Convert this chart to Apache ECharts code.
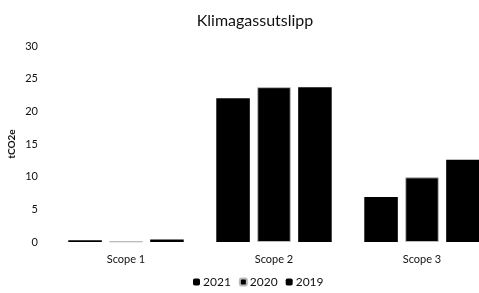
<!DOCTYPE html>
<html>
<head>
<meta charset="utf-8">
<script src="https://cdn.jsdelivr.net/npm/echarts@6/dist/echarts.min.js"></script>
<style>
  html, body { margin: 0; padding: 0; background: #fff; }
  #chart { width: 479px; height: 293px; }
</style>
</head>
<body>
<div id="chart"></div>
<script>
const categories = ['Scope 1', 'Scope 2', 'Scope 3'];
const years = ['2021', '2020', '2019'];
const values2021 = [0.25, 22.0, 6.9];
const values2020 = [0.1, 23.7, 9.9];
const values2019 = [0.4, 23.7, 12.6];
const yTicks = [0, 5, 10, 15, 20, 25, 30];

const font = 'Lato, "Open Sans", sans-serif';
const chart = echarts.init(document.getElementById('chart'));

const plain = { color: '#000' };
// 2020 bars: black fill with a thin light line just inside the edge
const outlined = { color: '#000', borderColor: '#bbb', borderWidth: 1 };

chart.setOption({
    animation: false,
    title: {
        text: 'Klimagassutslipp',
        left: 250,
        textAlign: 'center',
        top: 8,
        textStyle: { fontFamily: font, fontSize: 16, fontWeight: 'normal', color: '#111' }
    },
    legend: {
        data: years,
        bottom: 0,
        left: 188,
        itemWidth: 7,
        itemHeight: 7,
        itemGap: 8,
        textStyle: { fontFamily: font, fontSize: 12, color: '#111', padding: [0, 0, 0, -2] }
    },
    grid: { left: 52, right: -17, top: 46, bottom: 51, containLabel: false, outerBoundsMode: 'none' },
    xAxis: {
        type: 'category',
        data: categories,
        axisLine: { show: false },
        axisTick: { show: false },
        axisLabel: { fontFamily: font, fontSize: 11, color: '#111', margin: 12 }
    },
    yAxis: {
        type: 'value',
        min: yTicks[0],
        max: yTicks[yTicks.length - 1],
        interval: 5,
        name: 'tCO2e',
        nameLocation: 'middle',
        nameGap: 35,
        nameMoveOverlap: false,
        nameTextStyle: { fontFamily: font, fontSize: 10, fontWeight: 'bold', color: '#111' },
        splitLine: { show: false },
        axisLine: { show: false },
        axisTick: { show: false },
        axisLabel: { fontFamily: font, fontSize: 11, color: '#111', margin: 14 }
    },
    series: [
        { name: years[0], type: 'bar', data: values2021, itemStyle: plain, barGap: '22%', barCategoryGap: '22%' },
        { name: years[1], type: 'bar', data: values2020, itemStyle: outlined },
        { name: years[2], type: 'bar', data: values2019, itemStyle: plain }
    ]
});
</script>
</body>
</html>
